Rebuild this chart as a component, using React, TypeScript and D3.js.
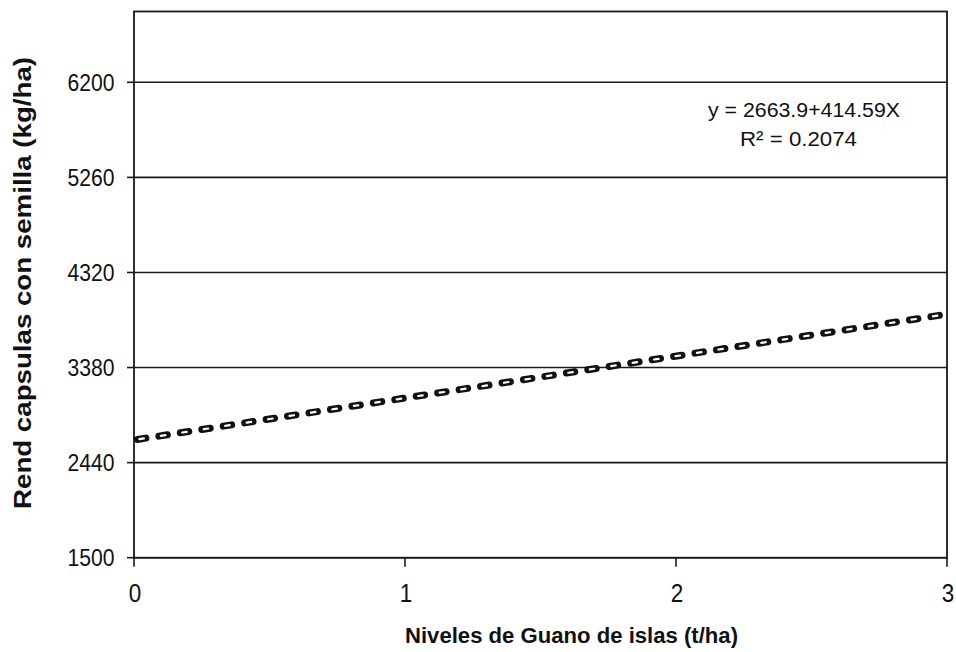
import React from "react";
import * as d3 from "d3";

const xTicks = [0, 1, 2, 3];
const yTicks = [1500, 2440, 3380, 4320, 5260, 6200];
const xDomain = [0, 3];
const yDomain = [1500, 6900];
const trendX = [0, 3];
const trendY = [2663.9, 3907.67];
const equationLines = ["y = 2663.9+414.59X", "R\u00B2 = 0.2074"];
const xTitle = "Niveles de Guano de islas  (t/ha)";
const yTitle = "Rend capsulas  con  semilla  (kg/ha)";

const W = 956;
const H = 652;
const left = 134;
const right = 947;
const top = 11.5;
const bottom = 557.7;

const SANS = "'Liberation Sans', Arial, Helvetica, sans-serif";

export default function App() {
  const x = d3.scaleLinear().domain(xDomain).range([left, right]);
  const y = d3.scaleLinear().domain(yDomain).range([bottom, top]);
  const pts = trendX.map((v, i) => [v, trendY[i]] as [number, number]);
  const line = d3
    .line<[number, number]>()
    .x((d) => x(d[0]))
    .y((d) => y(d[1]));
  const d = line(pts) || "";

  return (
    <svg
      width={W}
      height={H}
      style={{ position: "absolute", left: 0, top: 0, background: "#fff" }}
    >
      <defs>
        <clipPath id="plotclip">
          <rect x={left} y={top} width={right - left} height={bottom - top} />
        </clipPath>
      </defs>
      <rect x={0} y={0} width={W} height={H} fill="#fff" />
      {yTicks.map((t) => (
        <line
          key={"g" + t}
          x1={left}
          x2={right}
          y1={y(t)}
          y2={y(t)}
          stroke="#1a1a1a"
          strokeWidth={1.6}
        />
      ))}
      <rect
        x={left}
        y={top}
        width={right - left}
        height={bottom - top}
        fill="none"
        stroke="#1a1a1a"
        strokeWidth={1.8}
      />
      {yTicks.map((t) => (
        <g key={"yt" + t}>
          <line x1={left - 7} x2={left} y1={y(t)} y2={y(t)} stroke="#1a1a1a" strokeWidth={1.6} />
          <text
            x={114.5}
            y={y(t) + 8.6}
            textAnchor="end"
            fontFamily={SANS}
            fontSize={23.5}
            fill="#111"
            textLength={47}
            lengthAdjust="spacingAndGlyphs"
          >
            {t}
          </text>
        </g>
      ))}
      {xTicks.map((t) => (
        <g key={"xt" + t}>
          <line x1={x(t)} x2={x(t)} y1={bottom} y2={bottom + 9} stroke="#1a1a1a" strokeWidth={1.6} />
          <text
            x={x(t) + 1}
            y={601.5}
            textAnchor="middle"
            fontFamily={SANS}
            fontSize={26}
            fill="#111"
            textLength={12.5}
            lengthAdjust="spacingAndGlyphs"
          >
            {t}
          </text>
        </g>
      ))}
      <g clipPath="url(#plotclip)">
        <path
          d={d}
          fill="none"
          stroke="#111"
          strokeWidth={7}
          strokeLinecap="round"
          strokeDasharray="8.5 13.2"
          strokeDashoffset={-3.5}
        />
        <path
          d={d}
          fill="none"
          stroke="#fff"
          strokeWidth={2.2}
          strokeLinecap="round"
          strokeDasharray="4.5 17.2"
          strokeDashoffset={-5.5}
        />
      </g>
      <text
        x={804}
        y={117}
        textAnchor="middle"
        fontFamily={SANS}
        fontSize={20.5}
        fill="#111"
        textLength={192}
        lengthAdjust="spacingAndGlyphs"
      >
        {equationLines[0]}
      </text>
      <text
        x={798.5}
        y={145.5}
        textAnchor="middle"
        fontFamily={SANS}
        fontSize={20.5}
        fill="#111"
        textLength={117}
        lengthAdjust="spacingAndGlyphs"
      >
        {equationLines[1]}
      </text>
      <text
        x={571.5}
        y={643}
        textAnchor="middle"
        fontFamily={SANS}
        fontWeight="bold"
        fontSize={22.5}
        fill="#111"
        textLength={333}
        lengthAdjust="spacingAndGlyphs"
      >
        {xTitle}
      </text>
      <text
        transform="translate(31,283) rotate(-90)"
        x={0}
        y={0}
        textAnchor="middle"
        fontFamily={SANS}
        fontWeight="bold"
        fontSize={23}
        fill="#111"
        textLength={452}
        lengthAdjust="spacingAndGlyphs"
      >
        {yTitle}
      </text>
    </svg>
  );
}
